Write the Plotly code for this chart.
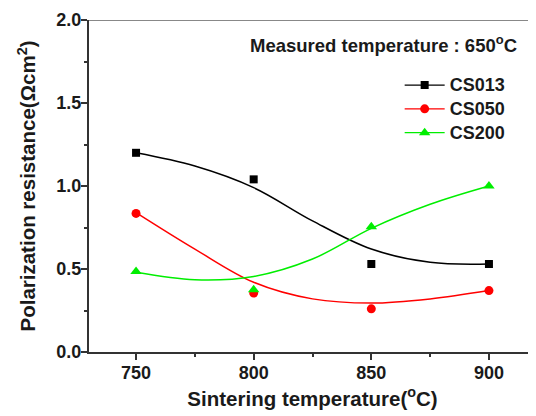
import plotly.graph_objects as go

# Measured data points
temps = [750, 800, 850, 900]
cs013 = [1.20, 1.04, 0.53, 0.53]
cs050 = [0.835, 0.355, 0.26, 0.37]
cs200 = [0.485, 0.375, 0.755, 1.00]

# Fitted curves, values
fit_x = [750, 775, 800, 825, 850, 875, 900]
fit013 = [1.20, 1.12, 0.99, 0.79, 0.62, 0.54, 0.53]
fit050 = [0.84, 0.62, 0.42, 0.32, 0.295, 0.32, 0.37]
fit200 = [0.48, 0.435, 0.455, 0.56, 0.745, 0.89, 1.00]

x_ticks = [750, 800, 850, 900]
y_ticks = [0.0, 0.5, 1.0, 1.5, 2.0]
y_ticklabels = ["0.0", "0.5", "1.0", "1.5", "2.0"]

names = ["CS013", "CS050", "CS200"]
colors = ["#000000", "#ff0000", "#00ee00"]
symbols = ["square", "circle", "triangle-up"]
sizes = [8, 9, 10]

FONT = "Liberation Sans, Arial, sans-serif"
TXT = "#1a1a1a"

fig = go.Figure()
for pts, fit, name, c, s, sz in zip([cs013, cs050, cs200], [fit013, fit050, fit200],
                                    names, colors, symbols, sizes):
    fig.add_trace(go.Scatter(x=fit_x, y=fit, mode="lines",
                             line=dict(color=c, width=1.5, shape="spline", smoothing=1.0),
                             showlegend=False, hoverinfo="skip"))
    fig.add_trace(go.Scatter(x=temps, y=pts, mode="markers",
                             marker=dict(symbol=s, size=sz, color=c), showlegend=False))
    fig.add_trace(go.Scatter(x=[None], y=[None], mode="lines+markers",
                             name='<span style="font-size:18px"><b>' + name + '</b></span>',
                             line=dict(color=c, width=1.2), marker=dict(symbol=s, size=sz, color=c)))

fig.add_shape(type="line", xref="paper", yref="y", x0=0, x1=1, y0=2.0, y1=2.0,
              line=dict(color="#888888", width=2))

fig.add_annotation(text="<b>Measured temperature : 650<sup>o</sup>C</b>", xref="paper", yref="paper",
                   x=0.963, y=0.928, xanchor="right", yanchor="middle", showarrow=False,
                   font=dict(family=FONT, size=18.5, color=TXT))

# page body has an 8px margin, so the figure is sized to fit the 536x416 window
fig.update_layout(
    width=528, height=408,
    margin=dict(l=81, r=0, t=12, b=64, autoexpand=False),
    plot_bgcolor="white", paper_bgcolor="white",
    font=dict(family=FONT, color=TXT),
    legend=dict(x=0.695, y=0.855, xanchor="left", yanchor="top", bgcolor="rgba(0,0,0,0)",
                font=dict(family=FONT, size=16, color=TXT),
                tracegroupgap=0, itemwidth=40),
    xaxis=dict(range=[730, 920], tickvals=x_ticks, ticktext=["<b>%d</b>" % v for v in x_ticks],
               showgrid=False, zeroline=False, automargin=False,
               showline=True, linecolor="#333333", linewidth=2,
               ticks="outside", ticklen=6, tickwidth=1.5, tickcolor="#333333",
               ticklabelstandoff=-3,
               minor=dict(tickvals=[775, 825, 875], ticks="outside", ticklen=3,
                          tickcolor="#333333", tickwidth=1.5),
               tickfont=dict(family=FONT, size=18, color=TXT),
               title=dict(text="<b>Sintering temperature(<sup>o</sup>C)</b>", standoff=10,
                          font=dict(family=FONT, size=20.5, color=TXT))),
    yaxis=dict(range=[0, 2.0], tickvals=y_ticks, ticktext=["<b>%s</b>" % t for t in y_ticklabels],
               showgrid=False, zeroline=False, automargin=False,
               showline=True, linecolor="#333333", linewidth=2,
               ticks="outside", ticklen=6, tickwidth=1.5, tickcolor="#333333",
               ticklabelstandoff=-4,
               minor=dict(tickvals=[0.25, 0.75, 1.25, 1.75], ticks="outside", ticklen=3,
                          tickcolor="#333333", tickwidth=1.5),
               tickfont=dict(family=FONT, size=18, color=TXT),
               title=dict(text="<b>Polarization resistance(Ωcm<sup>2</sup>)</b>", standoff=15,
                          font=dict(family=FONT, size=20.5, color=TXT))),
)

fig.write_html("out.html")
